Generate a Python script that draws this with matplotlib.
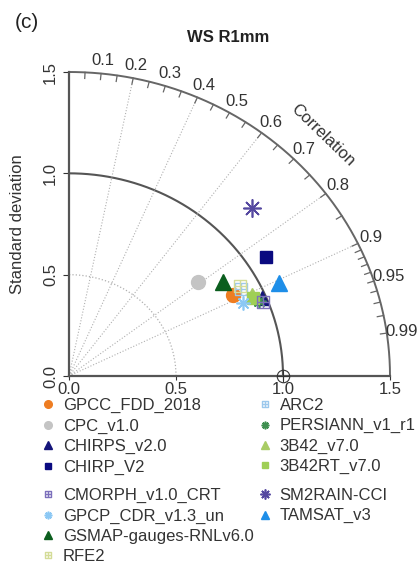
import numpy as np
import matplotlib.pyplot as plt
from matplotlib.path import Path

plt.rcParams['font.family'] = ['Liberation Sans', 'DejaVu Sans']

# data: (standard deviation, correlation) per product
names = ['GPCC_FDD_2018', 'CPC_v1.0', 'CHIRPS_v2.0', 'CHIRP_V2',
         'ARC2', 'PERSIANN_v1_r1', '3B42_v7.0', '3B42RT_v7.0',
         'CMORPH_v1.0_CRT', 'GPCP_CDR_v1.3_un', 'GSMAP-gauges-RNLv6.0', 'RFE2',
         'SM2RAIN-CCI', 'TAMSAT_v3']
std = [0.866, 0.761, 0.978, 1.093,
       0.913, 0.964, 0.943, 0.942,
       0.975, 0.887, 0.855, 0.915,
       1.191, 1.084]
corr = [0.887, 0.794, 0.920, 0.843,
        0.882, 0.923, 0.906, 0.913,
        0.928, 0.915, 0.839, 0.874,
        0.717, 0.907]

corr_labels = [0.1, 0.2, 0.3, 0.4, 0.5, 0.6, 0.7, 0.8, 0.9, 0.95, 0.99]
corr_grid = [0.2, 0.4, 0.6, 0.8, 0.9]

# square with a cross inside
sq = Path([(-1, -1), (1, -1), (1, 1), (-1, 1), (-1, -1),
           (0, -1), (0, 1), (-1, 0), (1, 0)],
          [1, 2, 2, 2, 79, 1, 2, 1, 2])

styles = {
    'GPCC_FDD_2018': dict(marker='o', color='#ee7d22', ms=10),
    'CPC_v1.0': dict(marker='o', color='#c4c4c4', ms=10),
    'CHIRPS_v2.0': dict(marker='^', color='#14147a', ms=10),
    'CHIRP_V2': dict(marker='s', color='#0a0a80', ms=8.5),
    'ARC2': dict(marker=sq, color='#9cc8ec', ms=9, mfc='none'),
    'PERSIANN_v1_r1': dict(marker=(8, 2, 0), color='#3f8f50', ms=10, mew=1.2),
    '3B42_v7.0': dict(marker='^', color='#a8cc64', ms=10),
    '3B42RT_v7.0': dict(marker='s', color='#9fcf55', ms=9),
    'CMORPH_v1.0_CRT': dict(marker=sq, color='#7c70bc', ms=9, mfc='none'),
    'GPCP_CDR_v1.3_un': dict(marker=(8, 2, 0), color='#8cc8f4', ms=10, mew=1.2),
    'GSMAP-gauges-RNLv6.0': dict(marker='^', color='#0b5e1e', ms=11),
    'RFE2': dict(marker=sq, color='#d4dc98', ms=9, mfc='none'),
    'SM2RAIN-CCI': dict(marker=(8, 2, 0), color='#5548a0', ms=13, mew=1.2),
    'TAMSAT_v3': dict(marker='^', color='#1e8ee8', ms=11),
}

fig = plt.figure(figsize=(4.19, 5.63), dpi=100)
ax = fig.add_axes([69/419, 1-376/563, 321/419, 304/563])
ax.set_xlim(0, 1.5)
ax.set_ylim(0, 1.5)
for s in ['top', 'right']:
    ax.spines[s].set_visible(False)
for s in ['left', 'bottom']:
    ax.spines[s].set_color('#555555')
    ax.spines[s].set_linewidth(1.6)

t = np.linspace(0, np.pi/2, 300)
ax.plot(1.5*np.cos(t), 1.5*np.sin(t), color='#666666', lw=1.4, clip_on=False)
ax.plot(1.0*np.cos(t), 1.0*np.sin(t), color='#555555', lw=1.5)
ax.plot(0.5*np.cos(t), 0.5*np.sin(t), color='#b0b0b0', lw=0.9, ls=':')

for c in corr_grid:
    a = np.arccos(c)
    ax.plot([0, 1.5*np.cos(a)], [0, 1.5*np.sin(a)], color='#b0b0b0', lw=0.8, ls=':')

ticks = list(np.arange(0.05, 0.9, 0.05)) + list(np.arange(0.9, 1.0, 0.01))
for c in ticks:
    a = np.arccos(c)
    ax.plot([1.47*np.cos(a), 1.5*np.cos(a)], [1.47*np.sin(a), 1.5*np.sin(a)],
            color='#666666', lw=0.9, clip_on=False)

for c in corr_labels:
    a = np.arccos(c)
    ax.text(1.57*np.cos(a), 1.565*np.sin(a), f'{c:g}', ha='center', va='center',
            fontsize=12, color='#333333')
ax.text(1.68*np.cos(np.pi/4), 1.68*np.sin(np.pi/4), 'Correlation', rotation=-44,
        ha='center', va='center', fontsize=12, color='#333333')

# reference point
ax.plot(1.0, 0.0, 'o', ms=9, mfc='none', mec='#333333', mew=0.8, clip_on=False, zorder=5)
ax.plot(1.0, 0.0, '+', ms=9, color='#333333', mew=0.8, clip_on=False, zorder=5)

handles = {}
for n, s_, c in zip(names, std, corr):
    st = dict(styles[n])
    col = st.pop('color')
    mfc = st.pop('mfc', col)
    h, = ax.plot(s_*c, s_*np.sqrt(1-c**2), ls='none', color=col, mfc=mfc, mec=col,
                 label=n, zorder=4, **st)
    handles[n] = h

ax.set_xticks([0, 0.5, 1.0, 1.5])
ax.set_xticklabels(['0.0', '0.5', '1.0', '1.5'])
ax.set_yticks([0, 0.5, 1.0, 1.5])
ax.set_yticklabels(['0.0', '0.5', '1.0', '1.5'], rotation=90, va='center')
ax.tick_params(axis='x', length=3, pad=1, labelsize=12, colors='#333333')
ax.tick_params(axis='y', length=4, pad=4, labelsize=12, colors='#333333')
ax.set_ylabel('Standard deviation', fontsize=12, color='#333333')
ax.yaxis.set_label_coords(-(69-25)/321, 0.5)

fig.text(228/419, 1-37/563, 'WS R1mm', ha='center', va='center', fontsize=12,
         fontweight='bold', color='#222222')
fig.text(27/419, 1-22/563, '(c)', ha='center', va='center', fontsize=15, color='#222222')

groups = [(names[0:4], 41, 398), (names[4:8], 258, 398),
          (names[8:12], 41, 488), (names[12:14], 258, 488)]
for grp, x0, y0 in groups:
    leg = fig.legend([handles[n] for n in grp], grp, loc='upper left',
                     bbox_to_anchor=(x0/419, 1-y0/563), frameon=False,
                     fontsize=12, markerscale=0.55, handlelength=0.8,
                     handletextpad=0.5, labelspacing=0.32, borderpad=0,
                     borderaxespad=0, numpoints=1)
    for tx in leg.get_texts():
        tx.set_color('#333333')

fig.savefig('out.png', dpi=100)
